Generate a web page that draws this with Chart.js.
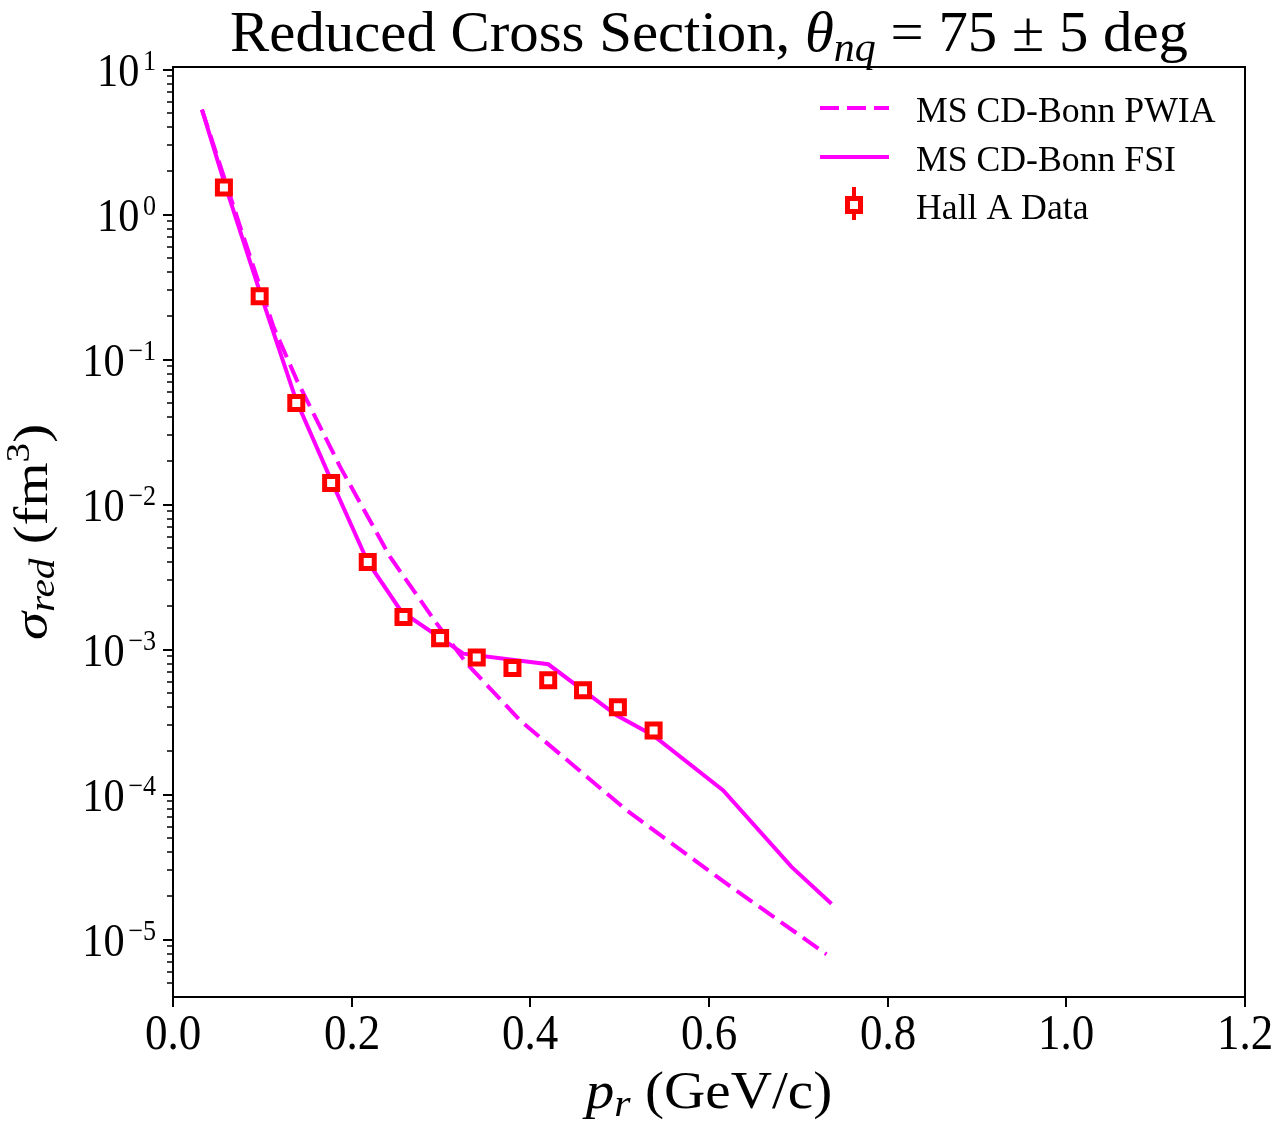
<!DOCTYPE html>
<html>
<head>
<meta charset="utf-8">
<script src="https://cdn.jsdelivr.net/npm/chart.js@4"></script>
<style>
  body { margin: 0; background: #fff; }
  canvas { display: block; }
</style>
</head>
<body>
<canvas id="chartCanvas" width="1280" height="1126"></canvas>
<script>
// missing momentum p_r (GeV/c) and reduced cross section (fm^3)
const pwiaX = [0.0324, 0.0753, 0.1125, 0.1387, 0.1871, 0.2431, 0.2953, 0.3289, 0.3885, 0.4369, 0.5078, 0.6197, 0.7315];
const pwiaY = [5.30, 0.821, 0.168, 0.0720, 0.0182, 0.00435, 0.00151, 0.000800, 0.000325, 0.000182, 7.79e-5, 2.43e-5, 7.92e-6];

const fsiX = [0.0324, 0.0574, 0.0977, 0.1379, 0.1771, 0.2181, 0.2554, 0.325, 0.4201, 0.4966, 0.5376, 0.6159, 0.6924, 0.7371];
const fsiY = [5.30, 1.67, 0.287, 0.0524, 0.0147, 0.00402, 0.00184, 0.000938, 0.000792, 0.000352, 0.000256, 0.000107, 3.17e-5, 1.77e-5];

const hallX = [0.057, 0.097, 0.138, 0.177, 0.218, 0.258, 0.299, 0.340, 0.380, 0.420, 0.459, 0.498, 0.538];
const hallY = [1.54, 0.273, 0.0502, 0.0141, 0.00402, 0.00168, 0.00120, 0.000881, 0.000746, 0.000614, 0.000524, 0.000400, 0.000277];

const xTicks = [0.0, 0.2, 0.4, 0.6, 0.8, 1.0, 1.2];
const yDecades = [-5, -4, -3, -2, -1, 0, 1];

const MAGENTA = '#ff00ff';
const RED = '#ff0000';
const SERIF = '"Liberation Serif", "DejaVu Serif", serif';

function toPoints(xs, ys) {
    return xs.map((x, i) => ({ x: x, y: ys[i] }));
}

// text made of several runs (sub/superscripts, italics)
function richWidth(ctx, parts) {
    let w = 0;
    parts.forEach(p => { ctx.font = p.font; w += ctx.measureText(p.text).width + (p.gap || 0); });
    return w;
}

// sx stretches along the baseline, sy across it
function drawRich(ctx, parts, x, y, align, sx, sy, rotated) {
    ctx.save();
    ctx.translate(x, y);
    if (rotated) ctx.rotate(-Math.PI / 2);
    ctx.scale(sx, sy);
    const w = richWidth(ctx, parts);
    let cx = align === 'center' ? -w / 2 : (align === 'right' ? -w : 0);
    ctx.fillStyle = '#000';
    ctx.textBaseline = 'alphabetic';
    ctx.textAlign = 'left';
    parts.forEach(p => {
        ctx.font = p.font;
        cx += p.gap || 0;
        ctx.fillText(p.text, cx, p.dy || 0);
        cx += ctx.measureText(p.text).width;
    });
    ctx.restore();
}

const rm = s => `${s}px ${SERIF}`;
const it = s => `italic ${s}px ${SERIF}`;

const axesPlugin = {
    id: 'axesDecor',
    afterDraw(chart) {
        const ctx = chart.ctx;
        const area = chart.chartArea;
        const xs = chart.scales.x;
        const ys = chart.scales.y;

        ctx.save();
        ctx.strokeStyle = '#000';

        // x ticks
        ctx.lineWidth = 2;
        xTicks.forEach(v => {
            const px = Math.round(xs.getPixelForValue(v));
            ctx.beginPath();
            ctx.moveTo(px, area.bottom);
            ctx.lineTo(px, area.bottom + 10);
            ctx.stroke();
            drawRich(ctx, [{ text: v.toFixed(1), font: rm(50) }], px, area.bottom + 52, 'center', 0.9, 1);
        });

        // y ticks, major + minor
        for (let d = yDecades[0] - 1; d <= yDecades[yDecades.length - 1]; d++) {
            for (let k = 1; k <= 9; k++) {
                const v = k * Math.pow(10, d);
                if (v < ys.min || v > ys.max) continue;
                const py = Math.round(ys.getPixelForValue(v));
                ctx.lineWidth = k === 1 ? 2 : 1.5;
                ctx.beginPath();
                ctx.moveTo(area.left, py);
                ctx.lineTo(area.left - (k === 1 ? 10 : 6), py);
                ctx.stroke();
            }
        }
        yDecades.forEach(d => {
            const py = ys.getPixelForValue(Math.pow(10, d));
            const exp = d < 0 ? '\u2212' + (-d) : String(d);
            drawRich(ctx, [
                { text: '10', font: rm(47) },
                { text: exp, font: rm(29), dy: -16, gap: 4 }
            ], area.left - 17, py + 16, 'right', 0.9, 1);
        });

        // frame
        ctx.lineWidth = 2;
        ctx.strokeRect(area.left, area.top, area.right - area.left, area.bottom - area.top);

        // title
        drawRich(ctx, [
            { text: 'Reduced Cross Section, ', font: rm(56) },
            { text: '\u03b8', font: it(56) },
            { text: 'nq', font: it(40), dy: 10 },
            { text: ' = 75 \u00b1 5 deg', font: rm(56) }
        ], (area.left + area.right) / 2, 51, 'center', 1.05, 1);

        // axis labels
        drawRich(ctx, [
            { text: 'p', font: it(52) },
            { text: 'r', font: it(38), dy: 8 },
            { text: ' (GeV/c)', font: rm(52) }
        ], (area.left + area.right) / 2, 1108, 'center', 1.1, 1);

        drawRich(ctx, [
            { text: '\u03c3', font: it(52) },
            { text: 'red', font: it(38), dy: 8 },
            { text: ' (fm', font: rm(52) },
            { text: '3', font: rm(36), dy: -20 },
            { text: ')', font: rm(52) }
        ], 47, (area.top + area.bottom) / 2, 'center', 1.09, 0.92, true);

        // legend
        const ds = chart.data.datasets;
        const rows = [
            { ds: ds[2], y: 108 },
            { ds: ds[1], y: 157 },
            { ds: ds[0], y: 205 }
        ];
        rows.forEach(r => {
            const d = r.ds;
            if (d.showLine === false) {
                ctx.strokeStyle = d.borderColor;
                ctx.lineWidth = 4;
                ctx.beginPath();
                ctx.moveTo(854, r.y - 18);
                ctx.lineTo(854, r.y + 15);
                ctx.stroke();
                const s = d.pointRadius * Math.SQRT1_2;
                ctx.fillStyle = d.pointBackgroundColor;
                ctx.lineWidth = d.pointBorderWidth;
                ctx.beginPath();
                ctx.rect(854 - s, r.y - s, 2 * s, 2 * s);
                ctx.fill();
                ctx.stroke();
            } else {
                ctx.strokeStyle = d.borderColor;
                ctx.lineWidth = d.borderWidth;
                ctx.setLineDash(d.borderDash || []);
                ctx.beginPath();
                ctx.moveTo(820, r.y);
                ctx.lineTo(889, r.y);
                ctx.stroke();
                ctx.setLineDash([]);
            }
            drawRich(ctx, [{ text: d.label, font: rm(35) }], 916, r.y + 14, 'left', 1.02, 1);
        });

        ctx.restore();
    }
};

new Chart(document.getElementById('chartCanvas'), {
    type: 'line',
    data: {
        datasets: [
            {
                label: 'Hall A Data',
                data: toPoints(hallX, hallY),
                showLine: false,
                pointStyle: 'rect',
                pointRadius: 9.2,
                pointBorderWidth: 5,
                pointBorderColor: RED,
                borderColor: RED,
                pointBackgroundColor: '#ffffff',
                order: 0
            },
            {
                label: 'MS CD-Bonn FSI',
                data: toPoints(fsiX, fsiY),
                borderColor: MAGENTA,
                borderWidth: 4,
                pointRadius: 0,
                tension: 0,
                fill: false,
                order: 1
            },
            {
                label: 'MS CD-Bonn PWIA',
                data: toPoints(pwiaX, pwiaY),
                borderColor: MAGENTA,
                borderWidth: 4,
                borderDash: [19, 8],
                pointRadius: 0,
                tension: 0,
                fill: false,
                order: 2
            }
        ]
    },
    options: {
        responsive: false,
        animation: false,
        devicePixelRatio: 1,
        layout: { padding: { left: 173, top: 67, right: 35, bottom: 129 } },
        plugins: {
            legend: { display: false },
            tooltip: { enabled: false }
        },
        scales: {
            x: { type: 'linear', min: 0, max: 1.2, display: false },
            y: { type: 'logarithmic', min: 4.02e-6, max: 10.42, display: false }
        }
    },
    plugins: [axesPlugin]
});
</script>
</body>
</html>
